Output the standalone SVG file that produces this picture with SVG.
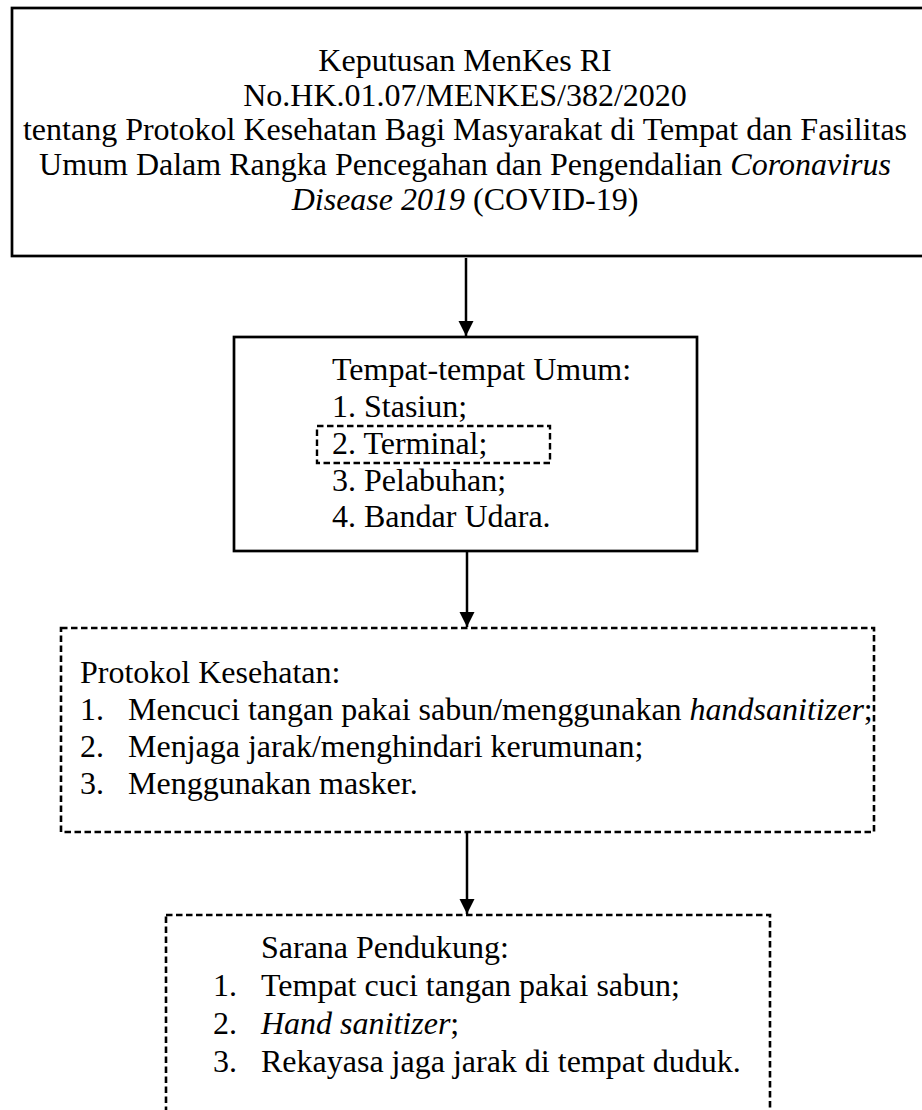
<svg xmlns="http://www.w3.org/2000/svg" width="922" height="1110" viewBox="0 0 922 1110">
<defs>
<marker id="ah" markerUnits="userSpaceOnUse" markerWidth="16" markerHeight="16" refX="15" refY="7.5" orient="auto">
<path d="M0,0 L15,7.5 L0,15 Z" fill="#000"/>
</marker>
</defs>
<style>
text{font-family:"Liberation Serif","Times New Roman",serif;font-size:32px;fill:#000}
.it{font-style:italic}
.solid{fill:#fff;stroke:#000;stroke-width:2.7}
.dash{fill:#fff;stroke:#000;stroke-width:2.6;stroke-dasharray:6.5 3.5}
.conn{stroke:#000;stroke-width:2.5;fill:none;marker-end:url(#ah)}
</style>
<rect x="0" y="0" width="922" height="1110" fill="#fff"/>
<g id="node-keputusan">
<rect class="solid" x="12" y="8" width="930" height="248"/>
<text x="465" y="71" text-anchor="middle">Keputusan MenKes RI</text>
<text x="465" y="106" text-anchor="middle">No.HK.01.07/MENKES/382/2020</text>
<text x="465" y="140" text-anchor="middle">tentang Protokol Kesehatan Bagi Masyarakat di Tempat dan Fasilitas</text>
<text x="465" y="175" text-anchor="middle">Umum Dalam Rangka Pencegahan dan Pengendalian <tspan class="it">Coronavirus</tspan></text>
<text x="465" y="210" text-anchor="middle"><tspan class="it">Disease 2019</tspan> (COVID-19)</text>
</g>
<g id="node-tempat">
<rect class="solid" x="234" y="337" width="463" height="214"/>
<text x="332" y="380">Tempat-tempat Umum:</text>
<text x="332" y="417">1. Stasiun;</text>
<rect id="highlight-terminal" x="317" y="426" width="233" height="37" fill="none" stroke="#000" stroke-width="2.4" stroke-dasharray="6.5 3.5"/>
<text x="332" y="454">2. Terminal;</text>
<text x="332" y="491">3. Pelabuhan;</text>
<text x="332" y="527">4. Bandar Udara.</text>
</g>
<g id="node-protokol">
<rect class="dash" x="61" y="628" width="813" height="204"/>
<text x="80" y="683">Protokol Kesehatan:</text>
<text x="80" y="720">1.</text>
<text x="128" y="720">Mencuci tangan pakai sabun/menggunakan <tspan class="it">handsanitizer</tspan>;</text>
<text x="80" y="757">2.</text>
<text x="128" y="757">Menjaga jarak/menghindari kerumunan;</text>
<text x="80" y="794">3.</text>
<text x="128" y="794">Menggunakan masker.</text>
</g>
<g id="node-sarana">
<rect class="dash" x="166" y="915" width="604" height="230"/>
<text x="261" y="958">Sarana Pendukung:</text>
<text x="213" y="996">1.</text>
<text x="261" y="996">Tempat cuci tangan pakai sabun;</text>
<text x="213" y="1034">2.</text>
<text x="261" y="1034"><tspan class="it">Hand sanitizer</tspan>;</text>
<text x="213" y="1072">3.</text>
<text x="261" y="1072">Rekayasa jaga jarak di tempat duduk.</text>
</g>
<g id="connectors">
<line class="conn" x1="466" y1="258" x2="466" y2="336"/>
<line class="conn" x1="467" y1="552" x2="467" y2="627"/>
<line class="conn" x1="467" y1="833" x2="467" y2="914"/>
</g>
</svg>
